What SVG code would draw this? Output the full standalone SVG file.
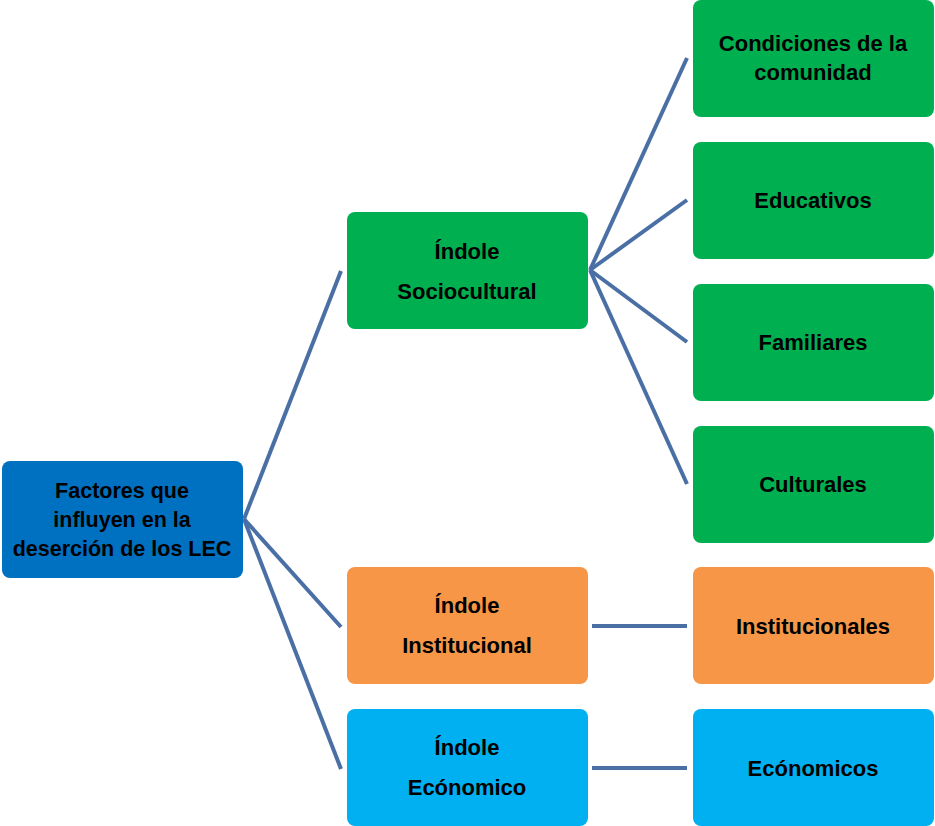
<svg xmlns="http://www.w3.org/2000/svg" width="935" height="826" viewBox="0 0 935 826">
<style>
.box{stroke:none}
.blue{fill:#0070C0}
.green{fill:#00B050}
.orange{fill:#F79646}
.cyan{fill:#00B0F0}
text{font-family:"Liberation Sans",Arial,sans-serif;font-weight:bold;font-size:22px;fill:#000;text-anchor:middle}
.root text{font-size:21.5px}
.conn line{stroke:#4A6FA5;stroke-width:4;stroke-linecap:butt}
</style>
<rect width="935" height="826" fill="#fff"/>
<g class="conn" id="connectors">
<line x1="244" y1="519" x2="341" y2="271"/>
<line x1="244" y1="519" x2="341" y2="627"/>
<line x1="244" y1="519" x2="341" y2="769"/>
<line x1="590" y1="270" x2="687" y2="58"/>
<line x1="590" y1="270" x2="687" y2="200"/>
<line x1="590" y1="270" x2="687" y2="342"/>
<line x1="590" y1="270" x2="687" y2="484"/>
<line x1="592" y1="626" x2="687" y2="626"/>
<line x1="592" y1="768" x2="687" y2="768"/>
</g>
<g id="root" class="root">
<rect class="box blue" x="2" y="461" width="241" height="117" rx="8"/>
<text x="122" y="498">Factores que</text>
<text x="122" y="527">influyen en la</text>
<text x="122" y="556">deserción de los LEC</text>
</g>
<g id="sociocultural">
<rect class="box green" x="347" y="212" width="241" height="117" rx="8"/>
<text x="467" y="259">Índole</text>
<text x="467" y="299">Sociocultural</text>
</g>
<g id="institucional">
<rect class="box orange" x="347" y="567" width="241" height="117" rx="8"/>
<text x="467" y="613">Índole</text>
<text x="467" y="653">Institucional</text>
</g>
<g id="economico">
<rect class="box cyan" x="347" y="709" width="241" height="117" rx="8"/>
<text x="467" y="755">Índole</text>
<text x="467" y="795">Ecónomico</text>
</g>
<g id="condiciones">
<rect class="box green" x="693" y="0" width="241" height="117" rx="8"/>
<text x="813" y="51">Condiciones de la</text>
<text x="813" y="80">comunidad</text>
</g>
<g id="educativos">
<rect class="box green" x="693" y="142" width="241" height="117" rx="8"/>
<text x="813" y="208">Educativos</text>
</g>
<g id="familiares">
<rect class="box green" x="693" y="284" width="241" height="117" rx="8"/>
<text x="813" y="350">Familiares</text>
</g>
<g id="culturales">
<rect class="box green" x="693" y="426" width="241" height="117" rx="8"/>
<text x="813" y="492">Culturales</text>
</g>
<g id="institucionales">
<rect class="box orange" x="693" y="567" width="241" height="117" rx="8"/>
<text x="813" y="634">Institucionales</text>
</g>
<g id="economicos">
<rect class="box cyan" x="693" y="709" width="241" height="117" rx="8"/>
<text x="813" y="776">Ecónomicos</text>
</g>
</svg>
